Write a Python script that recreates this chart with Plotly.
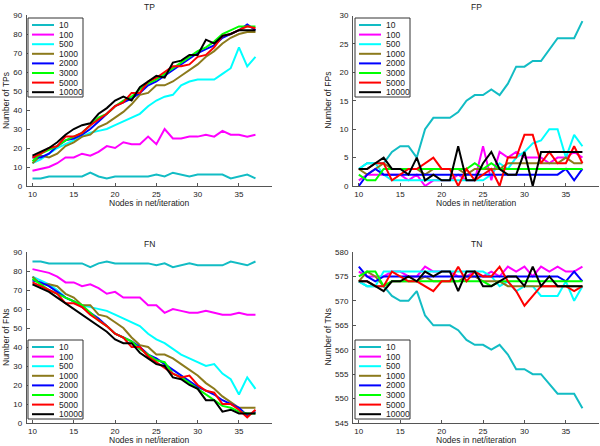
import plotly.graph_objects as go

# ---------------- data ----------------
x_nodes = list(range(10, 38))
series_names = ["10", "100", "500", "1000", "2000", "3000", "5000", "10000"]
series_colors = ["#12bcc4", "#ff00ff", "#00ffff", "#8c7a1c", "#0000ff", "#00ff00", "#ff0000", "#000000"]

tp_10    = [4, 4, 5, 5, 5, 5, 5, 7, 5, 4, 5, 5, 5, 5, 5, 6, 5, 7, 6, 5, 6, 6, 6, 6, 4, 5, 6, 4]
tp_100   = [8, 9, 10, 12, 15, 15, 17, 16, 18, 21, 20, 23, 22, 22, 26, 22, 30, 25, 25, 26, 26, 27, 26, 29, 27, 27, 26, 27]
tp_500   = [12, 14, 17, 20, 22, 24, 26, 28, 29, 30, 32, 34, 36, 38, 42, 45, 47, 48, 53, 55, 56, 56, 56, 59, 62, 73, 63, 68]
tp_1000  = [12, 16, 15, 17, 21, 23, 26, 27, 31, 33, 36, 39, 43, 48, 49, 53, 53, 55, 58, 61, 64, 68, 71, 75, 78, 80, 81, 81]
tp_2000  = [15, 15, 17, 21, 24, 25, 27, 30, 34, 38, 42, 44, 46, 49, 53, 55, 58, 61, 64, 67, 70, 72, 74, 78, 80, 82, 85, 82]
tp_3000  = [13, 17, 19, 21, 24, 26, 28, 32, 36, 38, 42, 45, 47, 51, 54, 56, 59, 62, 65, 68, 71, 73, 76, 80, 82, 84, 84, 84]
tp_5000  = [15, 17, 20, 21, 26, 26, 28, 32, 35, 38, 42, 44, 49, 49, 55, 57, 60, 63, 63, 64, 68, 69, 73, 79, 80, 82, 84, 83]
tp_10000 = [16, 18, 20, 23, 27, 30, 32, 33, 38, 41, 45, 47, 45, 52, 55, 58, 57, 65, 66, 69, 69, 77, 75, 79, 80, 82, 82, 82]

fp_10    = [3, 4, 4, 4, 6, 7, 7, 5, 10, 12, 12, 12, 13, 15, 16, 16, 17, 16, 18, 21, 21, 22, 22, 24, 26, 26, 26, 29]
fp_100   = [1, 2, 2, 2, 2, 2, 1, 2, 0, 1, 1, 1, 2, 1, 1, 7, 1, 6, 5, 6, 5, 5, 5, 4, 5, 5, 6, 5]
fp_500   = [3, 4, 4, 2, 1, 1, 1, 1, 1, 1, 1, 1, 1, 1, 1, 1, 2, 4, 3, 5, 6, 7.5, 8, 10, 10, 5, 9, 7]
fp_1000  = [3, 2, 3, 4, 3, 3, 3, 3, 2, 3, 3, 3, 3, 2, 3, 3, 3, 3, 4, 4, 4, 4, 4, 4, 4, 5, 4, 4]
fp_2000  = [0, 2, 3, 2, 2, 2, 2, 2, 2, 2, 2, 2, 2, 2, 2, 2, 2, 2, 2, 2, 2, 2, 2, 2, 2, 3, 1, 3]
fp_3000  = [2, 1, 1, 3, 3, 3, 3, 3, 3, 3, 3, 3, 3, 3, 4, 3, 4, 3, 3, 3, 3, 3, 3, 3, 3, 3, 3, 3]
fp_5000  = [3, 3, 4, 4, 1, 2, 3, 3, 4, 5, 3, 3, 0, 3, 1, 2, 3, 0, 5, 5, 9, 9, 4, 6, 4, 4, 7, 4]
fp_10000 = [3, 3, 4, 5, 3, 3, 2, 5, 1, 2, 1, 1, 7, 1, 1, 4, 6, 3, 2, 2, 6, 0, 6, 6, 6, 6, 6, 6]

fn_10    = [85, 85, 84, 84, 84, 84, 84, 82, 84, 85, 84, 84, 84, 84, 84, 83, 84, 82, 83, 84, 83, 83, 83, 83, 85, 84, 83, 85]
fn_100   = [81, 80, 79, 77, 74, 74, 72, 73, 71, 68, 69, 66, 66, 66, 62, 62, 58, 60, 59, 58, 58, 59, 58, 57, 57, 58, 57, 57]
fn_500   = [77, 75, 73, 70, 66, 64, 62, 61, 60, 59, 57, 55, 53, 51, 47, 44, 42, 39, 36, 34, 32, 30, 31, 26, 23, 15, 24, 18]
fn_1000  = [77, 73, 73, 72, 68, 66, 62, 62, 57, 56, 53, 50, 45, 41, 40, 36, 36, 34, 31, 28, 25, 21, 18, 14, 11, 8, 8, 8]
fn_2000  = [75, 74, 72, 69, 66, 64, 61, 58, 55, 51, 47, 45, 43, 40, 36, 34, 31, 28, 25, 22, 19, 17, 15, 12, 10, 8, 4, 6]
fn_3000  = [76, 73, 70, 68, 66, 64, 62, 58, 54, 51, 47, 45, 43, 39, 36, 33, 32, 26, 24, 21, 18, 15, 12, 9, 8, 6, 5, 5]
fn_5000  = [74, 72, 70, 68, 63, 63, 61, 57, 54, 51, 47, 45, 40, 40, 35, 32, 29, 26, 24, 25, 20, 17, 16, 10, 10, 7, 3, 7]
fn_10000 = [73, 71, 69, 66, 63, 60, 57, 54, 51, 48, 44, 42, 42, 37, 34, 31, 30, 24, 23, 20, 18, 12, 12, 6, 7, 5, 5, 5]

tn_10    = [574, 573, 573, 573, 571, 570, 570, 572, 567, 565, 565, 565, 564, 562, 561, 561, 560, 561, 559, 556, 556, 555, 555, 553, 551, 551, 551, 548]
tn_100   = [576, 575, 575, 575, 576, 576, 575, 575, 577, 576, 576, 576, 575, 575, 576, 575, 576, 575, 577, 576, 577, 575, 577, 576, 577, 576, 576, 577]
tn_500   = [574, 573, 573, 576, 576, 576, 576, 576, 576, 576, 576, 576, 576, 576, 576, 576, 575, 573, 574, 572, 573, 573, 571, 571, 571, 574, 570, 573]
tn_1000  = [574, 576, 575, 573, 574, 574, 574, 574, 575, 574, 574, 574, 574, 575, 575, 574, 574, 574, 573, 573, 573, 573, 573, 573, 573, 573, 573, 573]
tn_2000  = [577, 575, 574, 575, 575, 575, 575, 575, 575, 575, 575, 575, 575, 575, 575, 575, 575, 575, 575, 575, 575, 575, 575, 575, 575, 574, 576, 574]
tn_3000  = [575, 576, 576, 573, 574, 574, 574, 574, 574, 574, 574, 574, 574, 574, 574, 574, 573, 574, 574, 574, 574, 574, 574, 574, 574, 574, 574, 574]
tn_5000  = [574, 574, 573, 573, 576, 575, 574, 574, 573, 572, 574, 574, 577, 574, 576, 575, 575, 577, 574, 572, 569, 571, 573, 573, 573, 573, 572, 573]
tn_10000 = [574, 574, 573, 572, 574, 574, 575, 574, 576, 575, 576, 576, 572, 576, 576, 573, 573, 574, 575, 575, 573, 577, 573, 575, 573, 573, 573, 573]

panel_titles = ["TP", "FP", "FN", "TN"]
y_titles = ["Number of TPs", "Number of FPs", "Number of FNs", "Number of TNs"]
x_title = "Nodes in net/iteration"

panels = [
    [tp_10, tp_100, tp_500, tp_1000, tp_2000, tp_3000, tp_5000, tp_10000],
    [fp_10, fp_100, fp_500, fp_1000, fp_2000, fp_3000, fp_5000, fp_10000],
    [fn_10, fn_100, fn_500, fn_1000, fn_2000, fn_3000, fn_5000, fn_10000],
    [tn_10, tn_100, tn_500, tn_1000, tn_2000, tn_3000, tn_5000, tn_10000],
]

# ---------------- layout helpers ----------------
W, H = 600, 446
FONT = "Liberation Sans, Arial, Helvetica, sans-serif"
AXCOL = "#555555"


def px(v):
    return v / W


def py(v):
    return 1 - v / H


# pixel boxes of each axes: (left, right, top, bottom)
boxes = [(26.7, 272, 15, 186), (353, 599, 15.5, 186), (26.7, 272, 252, 423), (353, 599, 252, 423)]
y_ranges = [[0, 90], [0, 30], [0, 90], [545, 580]]
y_dticks = [10, 5, 10, 5]
legend_pos = [(28, 18), (355, 18), (28, 340), (355, 340)]
title_x = [5.5, 328, 5.5, 327]

fig = go.Figure()
layout = dict(
    width=W, height=H, margin=dict(l=0, r=0, t=0, b=0),
    paper_bgcolor="white", plot_bgcolor="white", showlegend=False, hovermode=False,
    font=dict(family=FONT, size=8, color="#222222"),
)

for i, (box, data) in enumerate(zip(boxes, panels)):
    n = "" if i == 0 else str(i + 1)
    xa, ya = "x" + n, "y" + n
    for name, color, vals in zip(series_names, series_colors, data):
        fig.add_trace(go.Scatter(x=x_nodes, y=vals, mode="lines", name=name,
                                 line=dict(color=color, width=2), xaxis=xa, yaxis=ya))
    l, r, t, b = box
    layout["xaxis" + n] = dict(
        domain=[px(l), px(r)], anchor=ya, range=[9.3, 39], tickvals=[10, 15, 20, 25, 30, 35],
        showgrid=False, zeroline=False, showline=True, linecolor=AXCOL, linewidth=1,
        ticks="inside", ticklen=3, tickcolor=AXCOL, tickfont=dict(size=8, color="#222"),
        ticklabelstandoff=0, automargin=False,
    )
    layout["yaxis" + n] = dict(
        domain=[py(b), py(t)], anchor=xa, range=y_ranges[i], dtick=y_dticks[i],
        showgrid=False, zeroline=False, showline=True, linecolor=AXCOL, linewidth=1,
        ticks="inside", ticklen=3, tickcolor=AXCOL, tickfont=dict(size=8, color="#222"),
        ticklabelstandoff=2, automargin=False,
    )
    # panel title
    fig.add_annotation(text=panel_titles[i], xref="paper", yref="paper",
                       x=px((l + r) / 2), y=py(t - 8), xanchor="center", yanchor="middle",
                       showarrow=False, font=dict(size=8.5, color="#222"))
    # x title
    fig.add_annotation(text=x_title, xref="paper", yref="paper",
                       x=px((l + r) / 2), y=py(b + 17), xanchor="center", yanchor="middle",
                       showarrow=False, font=dict(size=8.5, color="#222"))
    # y title
    fig.add_annotation(text=y_titles[i], xref="paper", yref="paper",
                       x=px(title_x[i]), y=py((t + b) / 2), xanchor="center", yanchor="middle",
                       textangle=-90, showarrow=False, font=dict(size=8.5, color="#222"))

    # boxed legend
    bl, bt = legend_pos[i]
    bw, bh = 55, 79
    fig.add_shape(type="rect", xref="paper", yref="paper", x0=px(bl), x1=px(bl + bw),
                  y0=py(bt + bh), y1=py(bt), line=dict(color="#333333", width=1),
                  fillcolor="white", layer="above")
    for k, (name, color) in enumerate(zip(series_names, series_colors)):
        yy = bt + 7 + k * 9.6
        fig.add_shape(type="line", xref="paper", yref="paper", x0=px(bl + 4), x1=px(bl + 26),
                      y0=py(yy), y1=py(yy), line=dict(color=color, width=2), layer="above")
        fig.add_annotation(text=name, xref="paper", yref="paper", x=px(bl + 29), y=py(yy),
                           xanchor="left", yanchor="middle", showarrow=False,
                           font=dict(size=8.5, color="#222"))

fig.update_layout(**layout)
fig.write_html("out.html", config={"displayModeBar": False},
               post_script="document.body.style.margin='0';document.body.style.padding='0';")
